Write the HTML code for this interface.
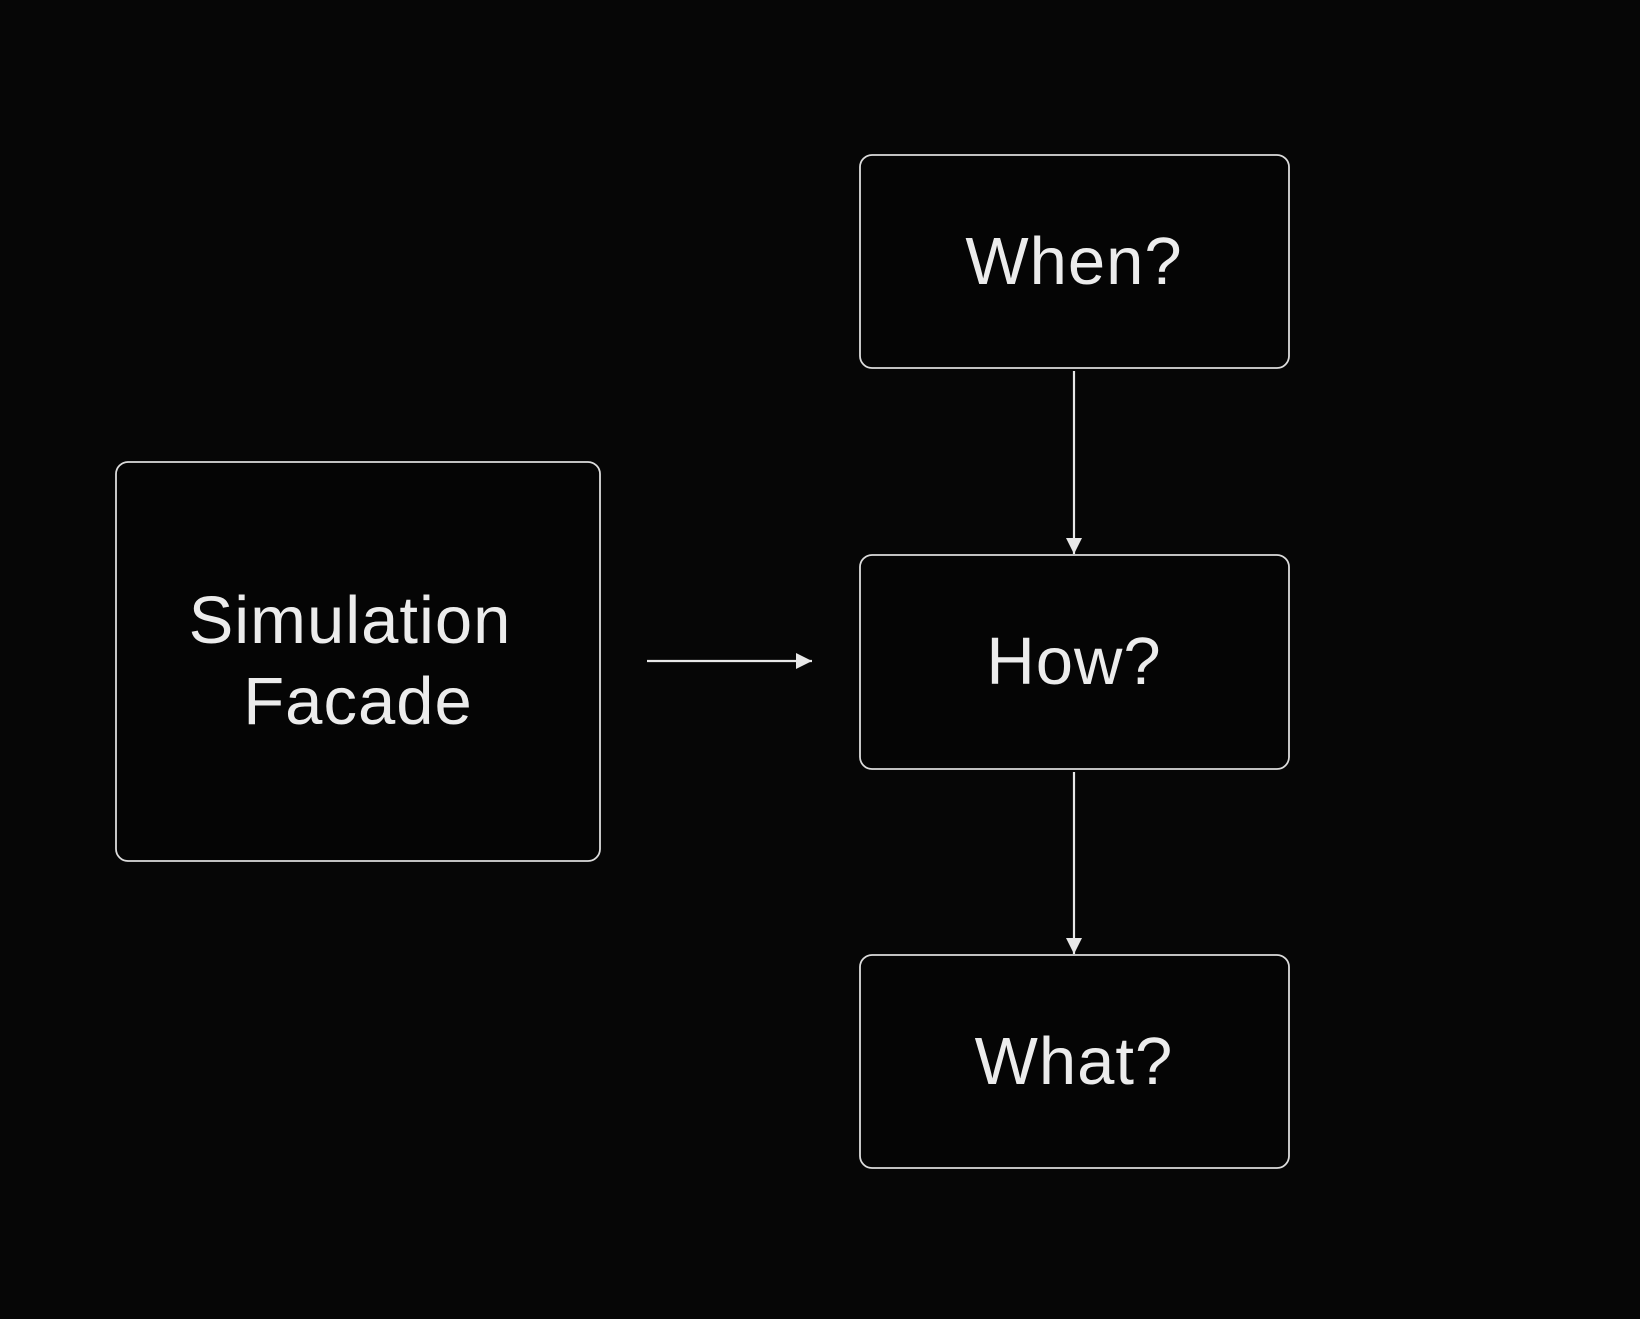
<!DOCTYPE html>
<html>
<head>
<meta charset="utf-8">
<style>
  html, body { margin: 0; padding: 0; background: #060606; }
  body { width: 1640px; height: 1314px; overflow: hidden; }
  svg text { font-family: "Liberation Sans", "DejaVu Sans", sans-serif; fill: #ececec; }
</style>
</head>
<body>
<svg width="1640" height="1314" viewBox="0 0 1640 1314" xmlns="http://www.w3.org/2000/svg">
  <rect width="1640" height="1314" fill="#060606"/>
  <defs>
    <marker id="ah" markerWidth="16" markerHeight="16" refX="16" refY="8" orient="auto" markerUnits="userSpaceOnUse">
      <path d="M0,0 L16,8 L0,16 z" fill="#e8e8e8"/>
    </marker>
  </defs>
  <g fill="#050505" stroke="#dcdcdc" stroke-width="1.8">
    <rect x="116" y="462" width="484" height="399" rx="12"/>
    <rect x="860" y="155" width="429" height="213" rx="12"/>
    <rect x="860" y="555" width="429" height="214" rx="12"/>
    <rect x="860" y="955" width="429" height="213" rx="12"/>
  </g>
  <g stroke="#e8e8e8" stroke-width="2.2" fill="none">
    <line x1="647" y1="661" x2="812" y2="661" marker-end="url(#ah)"/>
    <line x1="1074" y1="371" x2="1074" y2="554" marker-end="url(#ah)"/>
    <line x1="1074" y1="772" x2="1074" y2="954" marker-end="url(#ah)"/>
  </g>
  <g font-size="67" text-anchor="middle" letter-spacing="1">
    <text x="350" y="643">Simulation</text>
    <text x="358" y="724">Facade</text>
    <text x="1074" y="284">When?</text>
    <text x="1074" y="684">How?</text>
    <text x="1074" y="1084">What?</text>
  </g>
</svg>
</body>
</html>
